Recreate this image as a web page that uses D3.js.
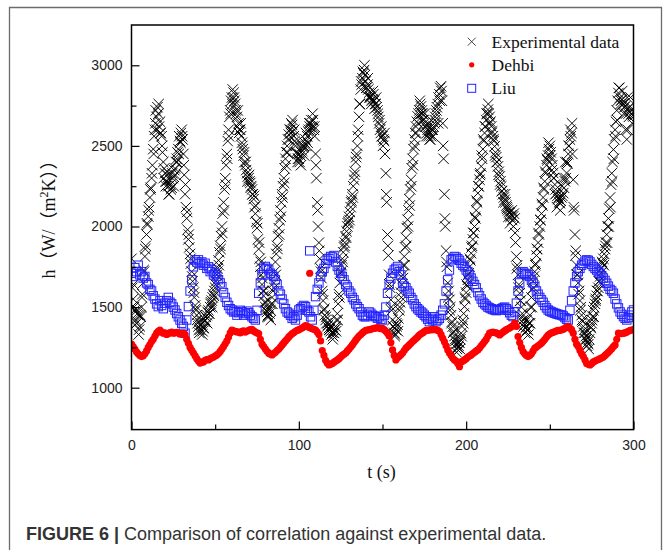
<!DOCTYPE html>
<html><head><meta charset="utf-8">
<script src="https://cdn.jsdelivr.net/npm/d3@7"></script>
<style>body{margin:0;background:#fff;} svg{display:block;}</style>
</head><body>
<script>
// ---------- data ----------
const xTicks = [0, 100, 200, 300];
const xMinor = [50, 150, 250];
const yTicks = [1000, 1500, 2000, 2500, 3000];
const yMinor = [1250, 1750, 2250, 2750];
const legendLabels = ["Experimental data", "Dehbi", "Liu"];

// Experimental data, one value every 0.5 s from t = 0 s
const expStep = 0.5;
const expH = [
1800,1620,1550,1500,1480,1420,1400,1460,1450,1360,1380,1440,1500,1580,1650,1720,1814,1880,1950,2010,
2062,2120,2180,2240,2300,2380,2480,2560,2600,2720,2680,2740,2700,2620,2650,2580,2560,2460,2400,2360,
2330,2250,2280,2320,2250,2200,2290,2230,2240,2300,2310,2350,2360,2400,2420,2460,2480,2560,2530,2580,
2600,2540,2450,2320,2200,2120,2050,1980,1920,1870,1830,1770,1720,1660,1620,1560,1510,1480,1450,1400,
1380,1340,1360,1390,1400,1350,1370,1410,1420,1440,1450,1470,1480,1460,1500,1530,1540,1560,1580,1600,
1620,1660,1700,1740,1790,1840,1880,1940,2000,2080,2150,2230,2300,2380,2450,2530,2600,2680,2720,2780,
2800,2850,2830,2780,2760,2700,2680,2720,2640,2600,2600,2560,2520,2480,2440,2400,2380,2350,2330,2310,
2300,2280,2270,2250,2230,2200,2170,2120,2080,2030,1990,1920,1860,1800,1750,1700,1640,1600,1570,1530,
1500,1480,1470,1450,1440,1460,1480,1520,1560,1600,1650,1720,1780,1830,1880,1940,1990,2040,2100,2150,
2200,2250,2300,2360,2420,2460,2500,2540,2570,2600,2600,2640,2630,2590,2560,2530,2500,2460,2450,2420,
2420,2400,2440,2460,2470,2490,2500,2520,2540,2500,2560,2590,2600,2620,2640,2660,2620,2660,2600,2560,
2450,2300,2150,2000,1900,1800,1740,1680,1600,1540,1480,1450,1420,1400,1380,1390,1370,1360,1350,1330,
1340,1320,1340,1360,1380,1420,1460,1520,1580,1650,1710,1760,1800,1840,1870,1900,1940,1970,2000,2030,
2060,2090,2120,2160,2200,2250,2290,2340,2400,2450,2500,2600,2680,2760,2850,2880,2920,2950,2970,2940,
2900,2860,2880,2850,2830,2810,2800,2780,2790,2820,2780,2760,2760,2740,2720,2680,2640,2600,2580,2560,
2560,2540,2530,2450,2330,2150,1950,1820,1700,1620,1545,1480,1420,1380,1340,1330,1360,1380,1390,1430,
1480,1530,1590,1640,1700,1760,1814,1870,1930,1990,2042,2100,2170,2230,2290,2360,2420,2480,2540,2580,
2620,2650,2683,2700,2720,2760,2745,2720,2700,2660,2640,2620,2620,2580,2600,2560,2580,2540,2560,2600,
2600,2620,2640,2680,2700,2740,2760,2800,2820,2860,2870,2780,2640,2420,2200,2000,1850,1750,1650,1600,
1545,1500,1450,1410,1379,1350,1320,1290,1270,1240,1250,1260,1280,1300,1338,1380,1420,1460,1503,1550,
1590,1630,1669,1710,1750,1790,1834,1880,1920,1960,2000,2050,2100,2150,2207,2250,2290,2330,2373,2420,
2480,2530,2580,2620,2660,2700,2725,2700,2680,2650,2621,2590,2560,2530,2497,2460,2430,2400,2373,2340,
2310,2280,2249,2220,2200,2180,2166,2150,2130,2110,2100,2090,2083,2060,2070,2040,2062,2080,2050,1900,
1814,1760,1700,1640,1586,1540,1500,1460,1420,1400,1390,1370,1379,1360,1358,1400,1450,1500,1560,1610,
1660,1690,1720,1770,1820,1860,1900,1950,2000,2040,2080,2130,2180,2230,2280,2330,2380,2410,2440,2480,
2500,2460,2420,2380,2332,2300,2260,2230,2207,2190,2170,2150,2145,2160,2180,2190,2207,2240,2280,2300,
2332,2390,2450,2500,2539,2560,2580,2450,2290,2100,1950,1850,1760,1700,1650,1600,1540,1500,1450,1410,
1380,1360,1340,1320,1300,1280,1270,1300,1340,1370,1400,1440,1480,1500,1520,1550,1570,1600,1620,1660,
1690,1710,1740,1770,1800,1830,1860,1900,1950,2000,2050,2110,2180,2260,2330,2400,2477,2540,2600,2650,
2720,2780,2828,2860,2800,2780,2787,2760,2760,2740,2745,2700,2540,2600,2700,2740,2745,2720,2700,2690,
2683];

// Second scatter of experimental points, one every 1 s from t = 0.25 s
const exp2Start = 0.25;
const exp2Step = 1;
const exp2H = [
1500,1640,1390,1480,1330,1450,1560,1730,1860,2020,
2100,2230,2330,2450,2640,2600,2760,2580,2500,2300,
2280,2340,2200,2260,2330,2250,2320,2400,2450,2520,
2560,2380,2260,2090,1950,1800,1690,1590,1490,1420,
1360,1420,1330,1370,1440,1400,1460,1520,1500,1570,
1640,1720,1760,1860,1960,2100,2260,2420,2560,2700,
2760,2800,2720,2620,2580,2640,2500,2460,2400,2280,
2320,2240,2200,2190,2130,2020,1900,1780,1680,1600,
1530,1440,1490,1420,1520,1620,1700,1860,1950,2060,
2180,2270,2380,2460,2540,2580,2660,2600,2520,2400,
2450,2380,2500,2440,2580,2520,2640,2600,2700,2620,
2380,2100,1850,1720,1580,1490,1440,1400,1360,1380,
1300,1360,1350,1420,1560,1720,1780,1880,1930,2020,
2040,2150,2180,2320,2430,2560,2760,2900,2960,3000,
2860,2920,2800,2760,2840,2730,2800,2700,2660,2620,
2500,2580,2200,1880,1640,1500,1380,1320,1400,1350,
1500,1560,1680,1760,1880,2000,2130,2250,2380,2500,
2580,2640,2780,2700,2660,2700,2560,2640,2540,2620,
2560,2660,2720,2640,2780,2840,2500,2050,1780,1560,
1480,1400,1340,1300,1220,1280,1240,1320,1400,1560,
1640,1700,1800,1870,1960,2060,2160,2250,2320,2440,
2540,2620,2700,2760,2640,2580,2540,2440,2400,2320,
2260,2220,2150,2200,2120,2060,2020,2100,2000,1960,
1740,1620,1540,1440,1380,1340,1420,1330,1400,1500,
1620,1760,1860,1960,2040,2140,2240,2340,2420,2520,
2440,2350,2300,2200,2120,2180,2100,2250,2300,2400,
2400,2500,2600,2640,2120,1820,1700,1580,1480,1420,
1340,1300,1260,1240,1380,1420,1440,1540,1600,1660,
1650,1780,1760,1880,1900,2000,2120,2280,2420,2560,
2660,2860,2760,2840,2700,2600,2800,2680,2800,2640];

// Dehbi correlation, one value every 1 s from t = 0 s
const dehbiStep = 1;
const dehbiH = [
1270,1255,1240,1222,1210,1200,1193,1198,1210,1228,
1250,1268,1286,1300,1320,1338,1350,1358,1345,1338,
1340,1330,1335,1342,1345,1338,1340,1344,1340,1332,
1335,1338,1330,1300,1275,1250,1232,1215,1198,1180,
1165,1153,1158,1160,1170,1175,1172,1180,1185,1190,
1196,1203,1212,1225,1240,1255,1272,1290,1315,1340,
1358,1352,1350,1346,1345,1340,1350,1352,1345,1350,
1355,1360,1362,1352,1345,1340,1335,1300,1270,1255,
1240,1226,1214,1208,1203,1212,1220,1230,1240,1252,
1265,1278,1290,1302,1315,1325,1335,1342,1350,1355,
1360,1365,1370,1378,1385,1380,1375,1370,1365,1362,
1358,1345,1330,1290,1230,1200,1170,1152,1141,1145,
1150,1158,1165,1172,1180,1190,1200,1208,1215,1228,
1240,1252,1265,1280,1295,1308,1320,1330,1340,1348,
1355,1358,1360,1362,1365,1368,1370,1372,1370,1366,
1368,1360,1350,1338,1320,1280,1234,1200,1172,1185,
1195,1205,1215,1230,1245,1255,1265,1275,1286,1296,
1305,1315,1327,1334,1340,1348,1355,1356,1358,1360,
1360,1362,1360,1356,1350,1330,1306,1285,1260,1234,
1215,1200,1182,1172,1165,1150,1130,1160,1165,1172,
1180,1190,1196,1203,1212,1220,1228,1234,1246,1260,
1272,1286,1300,1320,1338,1342,1345,1342,1340,1334,
1327,1336,1345,1352,1360,1365,1370,1378,1385,1400,
1380,1317,1280,1250,1224,1210,1200,1193,1200,1210,
1228,1245,1252,1260,1268,1276,1288,1300,1314,1327,
1334,1340,1344,1348,1352,1355,1356,1358,1363,1368,
1374,1379,1370,1360,1338,1300,1270,1255,1230,1210,
1193,1172,1150,1145,1141,1150,1160,1165,1170,1175,
1180,1185,1190,1200,1210,1220,1230,1242,1255,1265,
1300,1338,1336,1335,1338,1340,1345,1350,1355,1358,
1360];

// Liu correlation, one value every 1 s from t = 0 s
const liuStep = 1;
const liuH = [
1710,1690,1745,1720,1760,1700,1720,1680,1690,1650,
1640,1610,1600,1570,1550,1520,1503,1540,1510,1490,
1524,1540,1560,1530,1520,1500,1482,1460,1440,1420,
1400,1380,1338,1420,1503,1600,1669,1750,1793,1780,
1793,1770,1780,1760,1772,1740,1750,1720,1731,1700,
1710,1690,1670,1650,1627,1590,1560,1530,1510,1490,
1482,1470,1472,1450,1465,1480,1472,1450,1460,1475,
1465,1450,1440,1430,1420,1480,1586,1650,1700,1740,
1752,1740,1731,1710,1700,1690,1669,1640,1600,1580,
1550,1520,1490,1470,1462,1450,1430,1440,1420,1450,
1482,1490,1500,1510,1503,1480,1470,1440,1420,1480,
1565,1610,1650,1690,1720,1740,1770,1790,1800,1814,
1810,1820,1780,1752,1730,1710,1690,1669,1640,1625,
1600,1586,1560,1545,1520,1503,1490,1470,1450,1441,
1440,1450,1470,1462,1450,1445,1440,1431,1440,1425,
1420,1450,1500,1586,1640,1680,1710,1730,1740,1752,
1720,1700,1648,1630,1620,1600,1586,1560,1545,1520,
1503,1490,1480,1470,1462,1450,1440,1425,1410,1430,
1420,1440,1410,1420,1430,1450,1480,1520,1600,1669,
1730,1793,1800,1814,1810,1800,1790,1772,1760,1750,
1731,1720,1700,1680,1660,1640,1620,1590,1570,1550,
1530,1520,1510,1500,1495,1490,1485,1482,1478,1482,
1482,1490,1495,1500,1490,1480,1465,1450,1441,1470,
1524,1600,1650,1710,1720,1710,1705,1700,1690,1669,
1650,1627,1600,1580,1560,1545,1530,1510,1495,1482,
1475,1470,1466,1462,1458,1455,1452,1451,1445,1435,
1425,1420,1480,1540,1600,1650,1690,1720,1740,1760,
1772,1785,1793,1790,1780,1765,1752,1740,1730,1720,
1710,1695,1680,1665,1648,1630,1610,1600,1586,1550,
1520,1495,1470,1455,1441,1430,1420,1435,1450,1470,
1482];

// isolated points near t = 106.5 s
const outlierT = [106.5];
const dehbiOutH = [1710];
const liuOutH = [1849];

// ---------- drawing ----------
const W = 667, H = 550;
const svg = d3.select("body").append("svg").attr("width", W).attr("height", H);

// outer figure frame
svg.append("path")
  .attr("d", "M9.5,560 L9.5,7.5 L661.5,7.5 L661.5,560")
  .attr("fill", "none").attr("stroke", "#6b6b6b").attr("stroke-width", 1.3);

const P = {l: 131.5, r: 633.5, t: 25, b: 429.6};
const x = d3.scaleLinear().domain([0, 300]).range([P.l, P.r]);
const y = d3.scaleLinear().domain([740, 3250]).range([P.b, P.t]);

svg.append("clipPath").attr("id", "clip")
  .append("rect").attr("x", P.l).attr("y", P.t).attr("width", P.r - P.l).attr("height", P.b - P.t);

const plot = svg.append("g").attr("clip-path", "url(#clip)");

const expData = expH.map((h, i) => ({t: i * expStep, h}))
  .concat(exp2H.map((h, i) => ({t: exp2Start + i * exp2Step, h})));
const dehbiData = dehbiH.map((h, i) => ({t: i * dehbiStep, h})).concat(outlierT.map((t, i) => ({t, h: dehbiOutH[i]})));
const liuData = liuH.map((h, i) => ({t: i * liuStep, h})).concat(outlierT.map((t, i) => ({t, h: liuOutH[i]})));

const cross = "M-5.2,-5.2L5.2,5.2M-5.2,5.2L5.2,-5.2";
plot.append("g").selectAll("path").data(expData).join("path")
  .attr("transform", d => `translate(${x(d.t)},${y(d.h)})`)
  .attr("d", cross).attr("stroke", "#000").attr("stroke-width", 0.95).attr("fill", "none");

plot.append("g").selectAll("rect").data(liuData).join("rect")
  .attr("x", d => x(d.t) - 4.2).attr("y", d => y(d.h) - 4.2)
  .attr("width", 8.4).attr("height", 8.4)
  .attr("fill", "none").attr("stroke", "#2323ff").attr("stroke-width", 1);

plot.append("g").selectAll("circle").data(dehbiData).join("circle")
  .attr("cx", d => x(d.t)).attr("cy", d => y(d.h)).attr("r", 3.6)
  .attr("fill", "#ff0000");

// axes
const tickFont = "'Liberation Sans', Arial, sans-serif";
const gx = svg.append("g").attr("transform", `translate(0,${P.b})`)
  .call(d3.axisBottom(x).tickValues(xTicks).tickSizeInner(-8).tickSizeOuter(0).tickPadding(10).tickFormat(d3.format("d")));
const gxm = svg.append("g").attr("transform", `translate(0,${P.b})`)
  .call(d3.axisBottom(x).tickValues(xMinor).tickSizeInner(-5).tickSizeOuter(0).tickFormat(""));
const gy = svg.append("g").attr("transform", `translate(${P.l},0)`)
  .call(d3.axisLeft(y).tickValues(yTicks).tickSizeInner(-8).tickSizeOuter(0).tickPadding(9).tickFormat(d3.format("d")));
const gym = svg.append("g").attr("transform", `translate(${P.l},0)`)
  .call(d3.axisLeft(y).tickValues(yMinor).tickSizeInner(-5).tickSizeOuter(0).tickFormat(""));
[gx, gxm, gy, gym].forEach(g => {
  g.select(".domain").remove();
  g.selectAll("line").attr("stroke", "#000").attr("stroke-width", 1.2);
  g.selectAll("text").attr("font-family", tickFont).attr("font-size", 14).attr("fill", "#222");
});

// plot frame
svg.append("rect").attr("x", P.l).attr("y", P.t).attr("width", P.r - P.l).attr("height", P.b - P.t)
  .attr("fill", "none").attr("stroke", "#000").attr("stroke-width", 1.5);

// axis titles
const serif = "'Liberation Serif', 'Times New Roman', serif";
svg.append("text").attr("x", (P.l + P.r) / 2 - 1).attr("y", 478)
  .attr("text-anchor", "middle").attr("font-family", serif).attr("font-size", 18).attr("fill", "#111")
  .text("t (s)");

const yl = svg.append("text").attr("transform", "translate(55,215) rotate(-90)")
  .attr("text-anchor", "middle").attr("font-family", serif + ", 'Noto Sans CJK SC'").attr("font-size", 18).attr("fill", "#111");
yl.append("tspan").text("h（W/（m");
yl.append("tspan").attr("font-size", 12).attr("dy", -7).text("2");
yl.append("tspan").attr("dy", 7).text("K））");

// legend
const lg = svg.append("g").attr("font-family", serif).attr("font-size", 17.5);
const lx = 471.7, ly = [41.7, 64.8, 88.3];
lg.append("path").attr("transform", `translate(${lx},${ly[0]})`).attr("d", "M-4,-4L4,4M-4,4L4,-4")
  .attr("stroke", "#333").attr("stroke-width", 0.9);
lg.append("circle").attr("cx", lx).attr("cy", ly[1]).attr("r", 2.6).attr("fill", "#ff0000");
lg.append("rect").attr("x", lx - 4).attr("y", ly[2] - 4).attr("width", 8).attr("height", 8)
  .attr("fill", "none").attr("stroke", "#2323ff").attr("stroke-width", 1);
legendLabels.forEach((s, i) => {
  lg.append("text").attr("x", 491.5).attr("y", ly[i] + 6).attr("fill", "#111").text(s);
});

// caption
const cap = svg.append("text").attr("x", 26).attr("y", 539.5)
  .attr("font-family", "'Liberation Sans', Arial, sans-serif").attr("font-size", 18).attr("fill", "#333");
cap.append("tspan").attr("font-weight", "bold").text("FIGURE 6 | ");
cap.append("tspan").text("Comparison of correlation against experimental data.");
</script>
</body></html>
